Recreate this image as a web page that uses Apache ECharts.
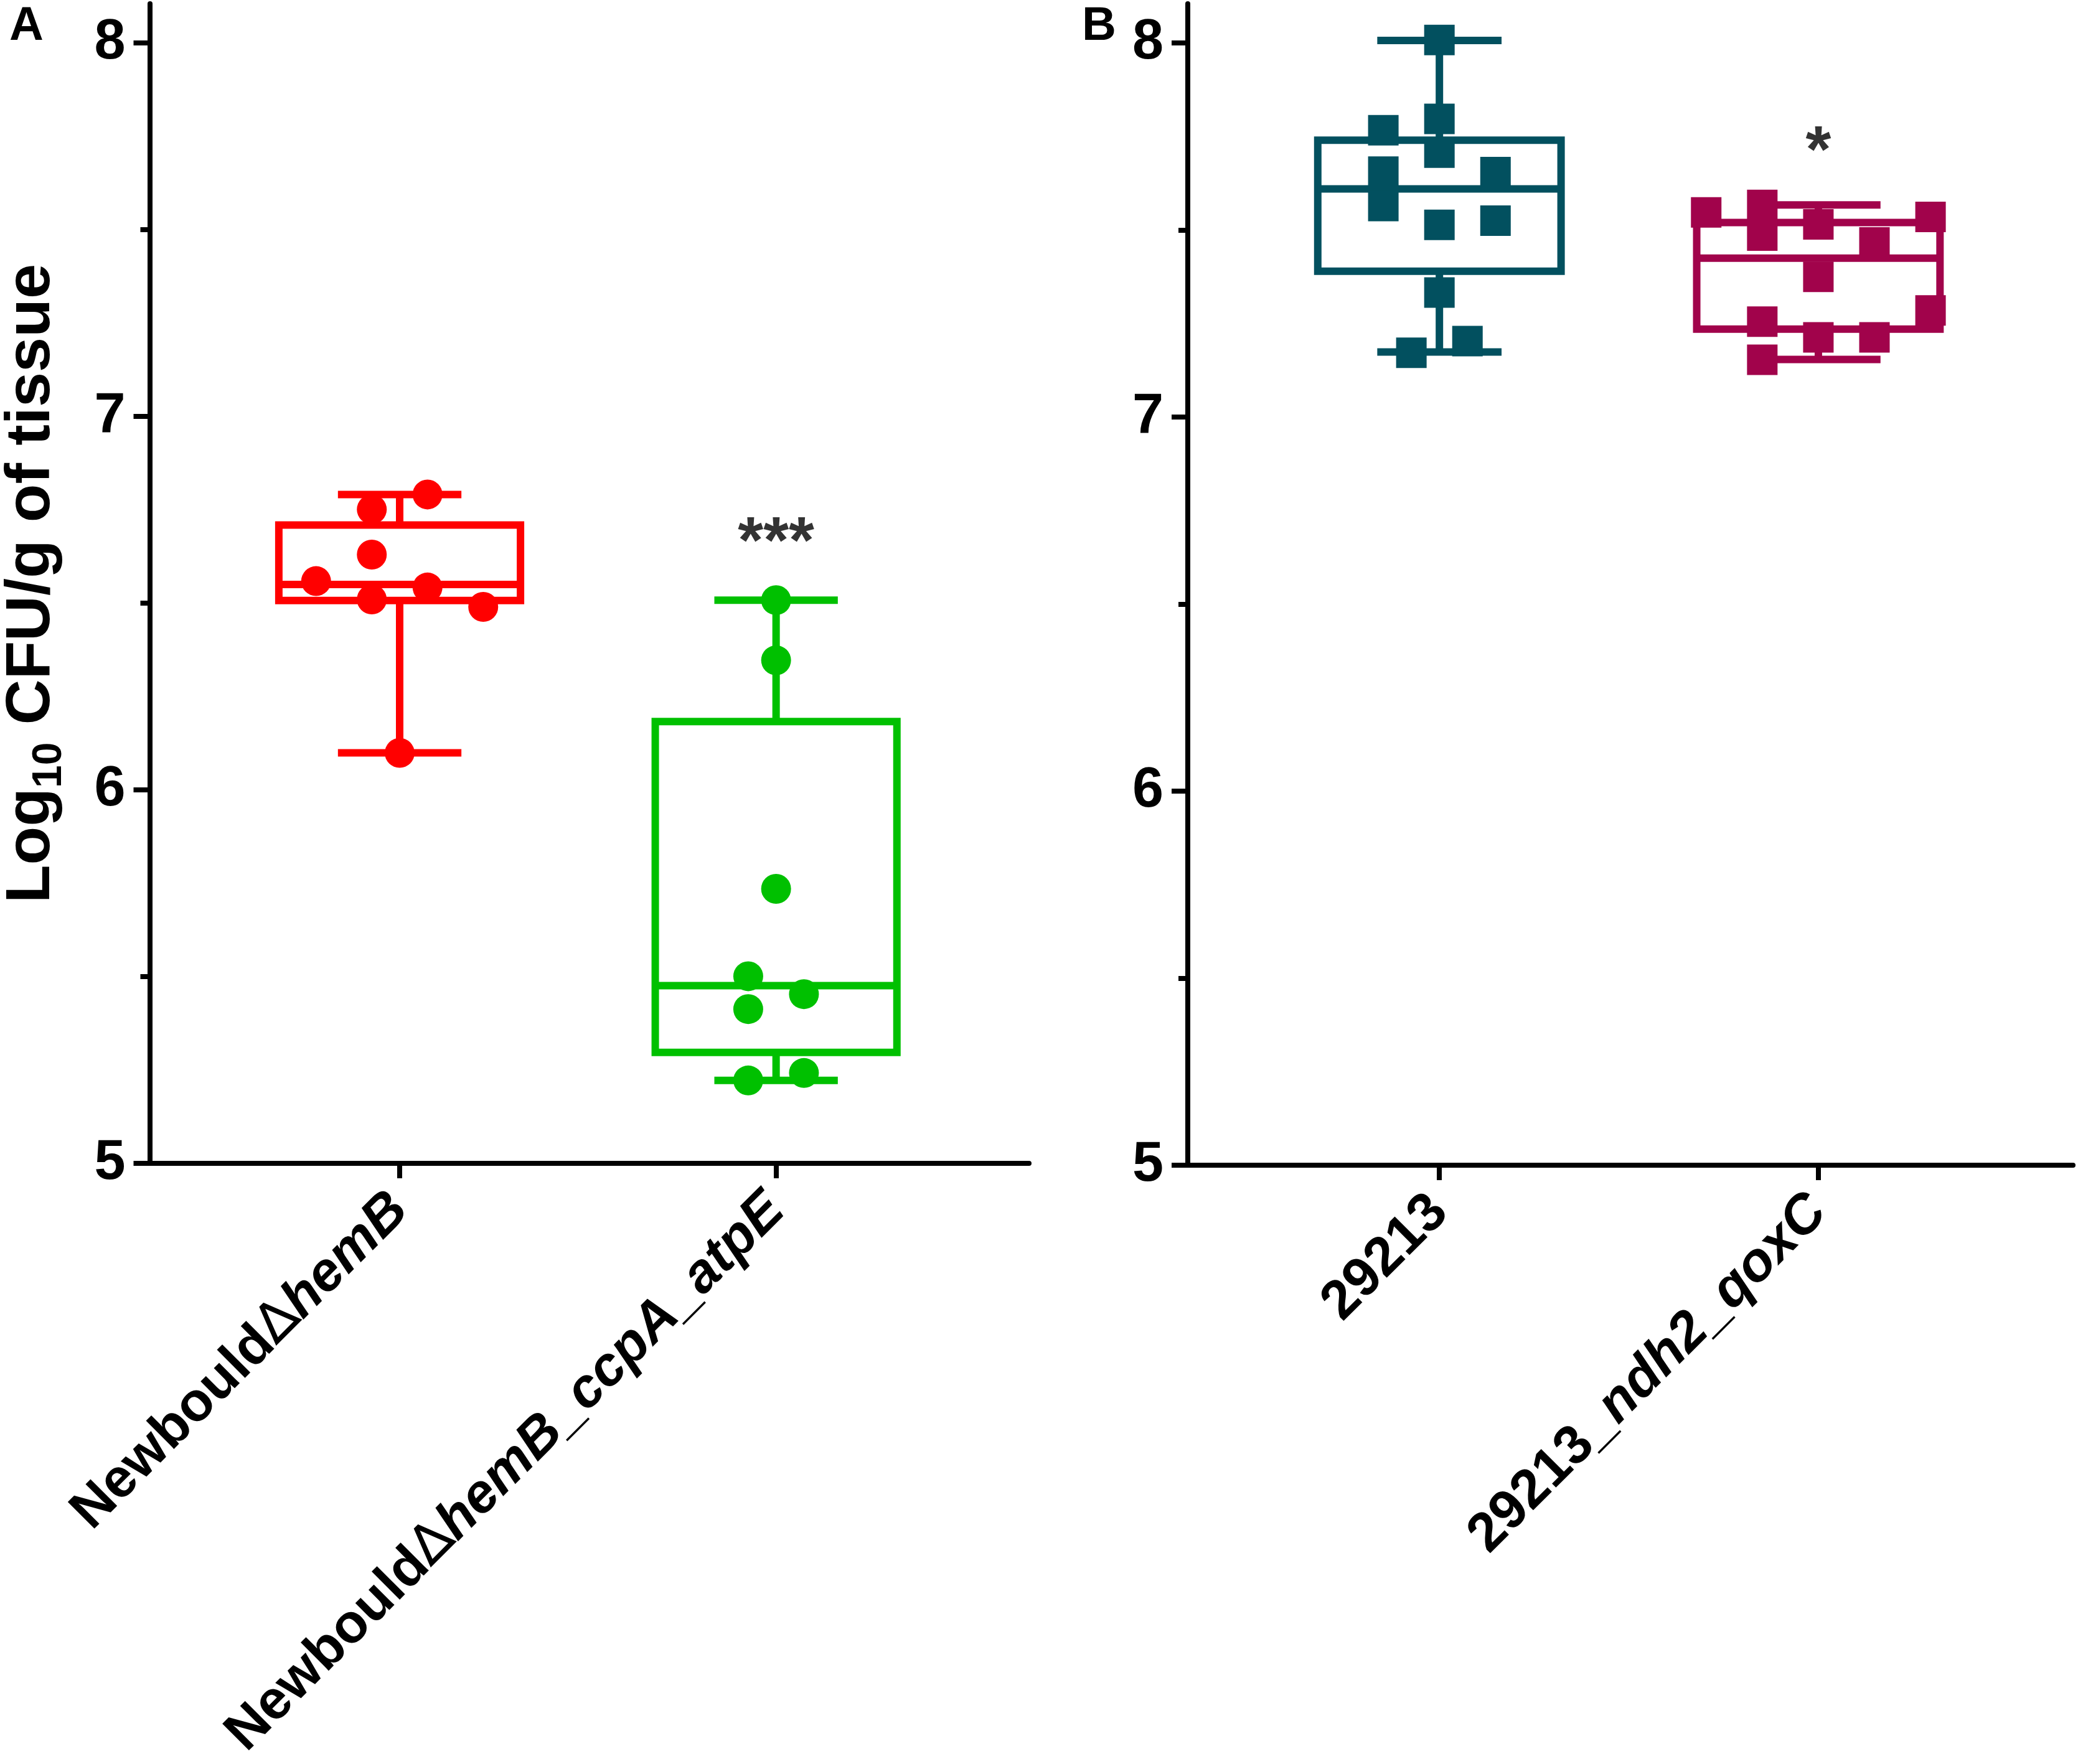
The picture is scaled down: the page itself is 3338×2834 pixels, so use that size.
<!DOCTYPE html>
<html>
<head>
<meta charset="utf-8">
<script src="https://cdn.jsdelivr.net/npm/echarts@6/dist/echarts.min.js"></script>
<style>
html,body{margin:0;padding:0;background:#fff;}
#c{width:3338px;height:2834px;}
</style>
</head>
<body>
<div id="c"></div>
<script>
// ---------- data ----------
const groupsA = ['Newbould\u2206hemB', 'Newbould\u2206hemB_ccpA_atpE'];
const groupsB = ['29213', '29213_ndh2_qoxC'];
const yTickLabels = [5, 6, 7, 8];
const yMinorTicks = [5.5, 6.5, 7.5];

// box stats: [min, Q1, median, Q3, max]
const boxRed     = [6.099, 6.507, 6.550, 6.709, 6.791];
const boxGreen   = [5.222, 5.297, 5.476, 6.183, 6.508];
const boxTeal    = [7.174, 7.390, 7.610, 7.740, 8.007];
const boxCrimson = [7.154, 7.235, 7.425, 7.520, 7.567];

// individual points and horizontal jitter (category units)
const ptsRed     = [6.751, 6.791, 6.630, 6.559, 6.542, 6.510, 6.490, 6.099];
const jitRed     = [-0.074, 0.074, -0.074, -0.222, 0.074, -0.074, 0.222, 0];
const ptsGreen   = [6.508, 6.347, 5.735, 5.501, 5.453, 5.413, 5.222, 5.242];
const jitGreen   = [0, 0, 0, -0.074, 0.074, -0.074, -0.074, 0.074];
const ptsTeal    = [8.008, 7.767, 7.797, 7.707, 7.656, 7.564, 7.655, 7.514, 7.525, 7.333, 7.172, 7.203];
const jitTeal    = [0, -0.148, 0, 0, -0.148, -0.148, 0.148, 0, 0.148, 0, -0.074, 0.074];
const ptsCrimson = [7.547, 7.567, 7.485, 7.515, 7.467, 7.535, 7.375, 7.255, 7.213, 7.213, 7.285, 7.153];
const jitCrimson = [-0.296, -0.148, -0.148, 0, 0.148, 0.296, 0, -0.148, 0, 0.148, 0.296, -0.148];

// significance annotations: [group position, y value, text]
const sigA = [[2, 6.70, '***']];
const sigB = [[2, 7.747, '*']];

// ---------- styles ----------
const FONT = 'Liberation Sans, Arial, Helvetica, sans-serif';
const RED = '#ff0000', GREEN = '#00c000', TEAL = '#02505f', CRIMSON = '#a1034b';
const LW = 12;
const BOX_HALF = 0.321, CAP_HALF = 0.164;
const XMIN = 0.336, XMAX = 2.672;

function renderBox(params, api) {
  const x = api.value(0);
  const lo = api.value(1), q1 = api.value(2), med = api.value(3), q3 = api.value(4), hi = api.value(5);
  const color = api.visual('color');
  const tl = api.coord([x - BOX_HALF, q3]);
  const br = api.coord([x + BOX_HALF, q1]);
  const mL = api.coord([x - BOX_HALF, med]);
  const mR = api.coord([x + BOX_HALF, med]);
  const c = api.coord([x, hi]);
  const cLo = api.coord([x, lo]);
  const capTL = api.coord([x - CAP_HALF, hi]);
  const capTR = api.coord([x + CAP_HALF, hi]);
  const capBL = api.coord([x - CAP_HALF, lo]);
  const capBR = api.coord([x + CAP_HALF, lo]);
  const st = {stroke: color, lineWidth: LW, fill: null};
  return {
    type: 'group',
    children: [
      {type: 'line', shape: {x1: c[0], y1: c[1], x2: c[0], y2: tl[1]}, style: st},
      {type: 'line', shape: {x1: c[0], y1: br[1], x2: c[0], y2: cLo[1]}, style: st},
      {type: 'line', shape: {x1: capTL[0], y1: capTL[1], x2: capTR[0], y2: capTR[1]}, style: st},
      {type: 'line', shape: {x1: capBL[0], y1: capBL[1], x2: capBR[0], y2: capBR[1]}, style: st},
      {type: 'rect', shape: {x: tl[0], y: tl[1], width: br[0] - tl[0], height: br[1] - tl[1]}, style: {stroke: color, lineWidth: LW, fill: 'rgba(0,0,0,0)'}},
      {type: 'line', shape: {x1: mL[0], y1: mL[1], x2: mR[0], y2: mR[1]}, style: st}
    ]
  };
}

function boxSeries(idx, pos, stats, color) {
  return {
    type: 'custom', xAxisIndex: idx, yAxisIndex: idx, z: 2,
    itemStyle: {color: color},
    renderItem: renderBox,
    encode: {x: 0, y: [1, 2, 3, 4, 5]},
    data: [[pos].concat(stats)],
    silent: true
  };
}

function pointSeries(idx, pos, vals, jit, color, symbol, size) {
  return {
    type: 'scatter', xAxisIndex: idx, yAxisIndex: idx, z: 5,
    symbol: symbol, symbolSize: size,
    itemStyle: {color: color, opacity: 1},
    data: vals.map((v, i) => [pos + jit[i], v]),
    silent: true
  };
}

function sigSeries(idx, arr) {
  return {
    type: 'scatter', xAxisIndex: idx, yAxisIndex: idx, z: 6,
    symbolSize: 1,
    itemStyle: {color: 'rgba(0,0,0,0)'},
    label: {show: true, position: 'inside', formatter: p => p.data[2], color: '#000000',
            textBorderWidth: 0, fontSize: 105, fontWeight: 'bold', fontFamily: FONT, offset: [0, 26]},
    data: arr,
    silent: true
  };
}

const labelRich = {
  n: {fontSize: 88, fontWeight: 'bold', fontFamily: FONT, color: '#000'},
  i: {fontSize: 88, fontWeight: 'bold', fontStyle: 'italic', fontFamily: FONT, color: '#000'},
  d: {fontSize: 88, fontWeight: 'normal', fontFamily: 'DejaVu Sans, ' + FONT, color: '#000'}
};

function richName(name) {
  // upright strain name, italic gene names
  const m = name.match(/^(Newbould)\u2206(.*)$/);
  if (m) {
    return '{n|' + m[1] + '}{d|\u2206}{i|' + m[2] + '}';
  }
  const k = name.indexOf('_');
  if (k < 0) return '{n|' + name + '}';
  return '{n|' + name.slice(0, k) + '}{i|' + name.slice(k) + '}';
}

function xAxis(idx, groups) {
  return {
    gridIndex: idx, type: 'value', min: XMIN, max: XMAX,
    axisLine: {show: true, onZero: false, lineStyle: {color: '#000', width: 8}},
    axisTick: {show: true, length: 24, lineStyle: {color: '#000', width: 8}, customValues: [1, 2]},
    axisLabel: {show: true, customValues: [1, 2], rotate: 45, margin: 62,
      formatter: v => richName(groups[Math.round(v) - 1]), rich: labelRich},
    splitLine: {show: false}
  };
}

function yAxis(idx, withName) {
  const ax = {
    gridIndex: idx, type: 'value', min: 5, max: 8.105, interval: 1,
    axisLine: {show: true, lineStyle: {color: '#000', width: 8}},
    axisTick: {show: true, length: 26, lineStyle: {color: '#000', width: 8}, customValues: yTickLabels},
    minorTick: {show: true, splitNumber: 2, length: 15, lineStyle: {color: '#000', width: 8}},
    axisLabel: {show: true, customValues: yTickLabels, margin: 39, fontSize: 90, fontWeight: 'bold', fontFamily: FONT, color: '#000'},
    splitLine: {show: false}
  };
  if (withName) {
    ax.name = '{a|Log}{s|10}{a| CFU/g of tissue}';
    ax.nameLocation = 'middle';
    ax.nameRotate = 90;
    ax.nameGap = 128;
    ax.nameTextStyle = {
      rich: {
        a: {fontSize: 101, fontWeight: 'bold', fontFamily: FONT, color: '#000', lineHeight: 122},
        s: {fontSize: 66, fontWeight: 'bold', fontFamily: FONT, color: '#000', lineHeight: 60, verticalAlign: 'bottom'}
      }
    };
  }
  return ax;
}

const chart = echarts.init(document.getElementById('c'), null, {renderer: 'canvas', width: 3338, height: 2834});
chart.setOption({
  backgroundColor: '#ffffff',
  animation: false,
  title: [
    {text: 'A', left: 10, top: 0, textStyle: {fontSize: 76, fontWeight: 'bold', fontFamily: FONT, color: '#000'}},
    {text: 'B', left: 1733, top: 0, textStyle: {fontSize: 76, fontWeight: 'bold', fontFamily: FONT, color: '#000'}}
  ],
  grid: [
    {left: 229, top: 6, width: 1424, height: 1863, containLabel: false},
    {left: 1908, top: 6, width: 1422, height: 1866, containLabel: false}
  ],
  xAxis: [xAxis(0, groupsA), xAxis(1, groupsB)],
  yAxis: [yAxis(0, true), yAxis(1, false)],
  series: [
    boxSeries(0, 1, boxRed, RED),
    boxSeries(0, 2, boxGreen, GREEN),
    boxSeries(1, 1, boxTeal, TEAL),
    boxSeries(1, 2, boxCrimson, CRIMSON),
    pointSeries(0, 1, ptsRed, jitRed, RED, 'circle', 48),
    pointSeries(0, 2, ptsGreen, jitGreen, GREEN, 'circle', 48),
    pointSeries(1, 1, ptsTeal, jitTeal, TEAL, 'rect', 49),
    pointSeries(1, 2, ptsCrimson, jitCrimson, CRIMSON, 'rect', 49),
    sigSeries(0, sigA),
    sigSeries(1, sigB)
  ]
});
</script>
</body>
</html>
